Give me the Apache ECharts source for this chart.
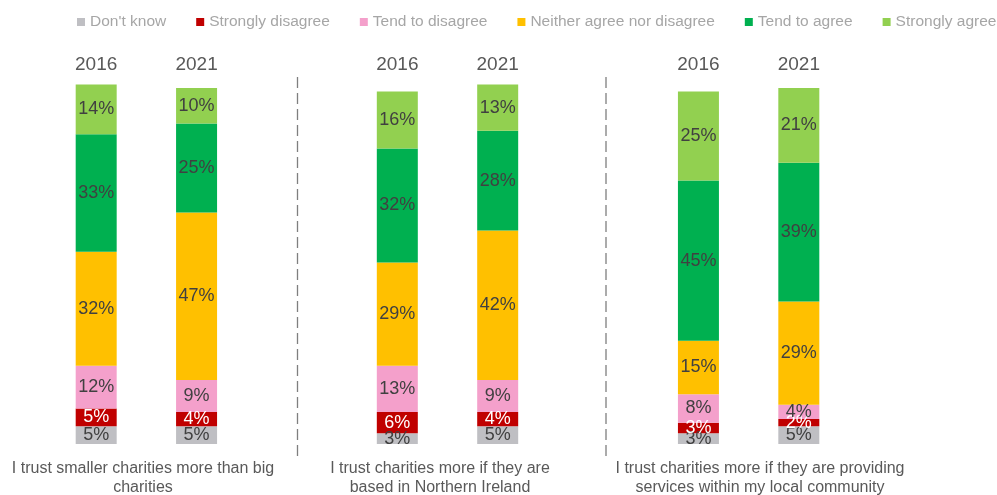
<!DOCTYPE html>
<html>
<head>
<meta charset="utf-8">
<script src="https://cdn.jsdelivr.net/npm/echarts@6/dist/echarts.min.js"></script>
<style>
  html, body { margin: 0; padding: 0; background: #fff; }
  #chart { width: 997px; height: 495px; }
</style>
</head>
<body>
<div id="chart"></div>
<script>
// Survey years per bar slot (empty slots leave gaps between statement groups)
const years = ['2016', '2021', '', '2016', '2021', '', '2016', '2021'];

// Statements shown under each pair of bars
const statements = [
  'I trust smaller charities more than big\ncharities',
  'I trust charities more if they are\nbased in Northern Ireland',
  'I trust charities more if they are providing\nservices within my local community'
];

// Response shares (%) per bar slot, '-' marks the empty gap slots
const dontKnow         = [5, 5, '-', 3, 5, '-', 3, 5];
const stronglyDisagree = [5, 4, '-', 6, 4, '-', 3, 2];
const tendToDisagree   = [12, 9, '-', 13, 9, '-', 8, 4];
const neither          = [32, 47, '-', 29, 42, '-', 15, 29];
const tendToAgree      = [33, 25, '-', 32, 28, '-', 45, 39];
const stronglyAgree    = [14, 10, '-', 16, 13, '-', 25, 21];

const seriesDefs = [
  { name: "Don't know", data: dontKnow, color: '#bfbfc3', label: '#404040' },
  { name: 'Strongly disagree', data: stronglyDisagree, color: '#c00000', label: '#ffffff' },
  { name: 'Tend to disagree', data: tendToDisagree, color: '#f4a0cb', label: '#404040' },
  { name: 'Neither agree nor disagree', data: neither, color: '#ffc000', label: '#404040' },
  { name: 'Tend to agree', data: tendToAgree, color: '#00b050', label: '#404040' },
  { name: 'Strongly agree', data: stronglyAgree, color: '#92d050', label: '#404040' }
];

const FONT = '"Liberation Sans", Arial, sans-serif';

const chart = echarts.init(document.getElementById('chart'), null, { renderer: 'canvas' });

const dashStyle = { stroke: '#7f7f7f', lineWidth: 1.3, lineDash: [11, 5] };
const groupCenters = [143, 440, 760];

chart.setOption({
  animation: false,
  backgroundColor: '#ffffff',
  legend: {
    top: 14,
    left: 77,
    width: 1000,
    padding: 0,
    itemWidth: 8,
    itemHeight: 8,
    itemGap: 30,
    icon: 'rect',
    selectedMode: false,
    textStyle: { fontFamily: FONT, fontSize: 15.5, color: '#a6a6a6' },
    data: seriesDefs.map(s => s.name)
  },
  grid: { left: 46, right: 148, top: 88, bottom: 51, containLabel: false },
  xAxis: {
    type: 'category',
    position: 'top',
    data: years,
    axisLine: { show: false },
    axisTick: { show: false },
    axisLabel: { fontFamily: FONT, fontSize: 19, color: '#595959', margin: 14, interval: 0 }
  },
  yAxis: {
    type: 'value',
    min: 0,
    max: 100,
    show: false
  },
  series: seriesDefs.map(s => ({
    name: s.name,
    type: 'bar',
    stack: 'total',
    barWidth: 41,
    clip: false,
    data: s.data,
    itemStyle: { color: s.color },
    label: {
      show: true,
      position: 'inside',
      formatter: '{c}%',
      fontFamily: FONT,
      fontSize: 18,
      color: s.label
    }
  })),
  graphic: [
    { type: 'line', shape: { x1: 297.5, y1: 77, x2: 297.5, y2: 458 }, style: dashStyle, silent: true },
    { type: 'line', shape: { x1: 606, y1: 77, x2: 606, y2: 458 }, style: dashStyle, silent: true }
  ].concat(statements.map((t, i) => ({
    type: 'text',
    x: groupCenters[i],
    y: 459,
    silent: true,
    style: {
      text: t,
      fontFamily: FONT,
      fontSize: 16,
      lineHeight: 19,
      fill: '#595959',
      align: 'center',
      verticalAlign: 'top'
    }
  })))
});
</script>
</body>
</html>
